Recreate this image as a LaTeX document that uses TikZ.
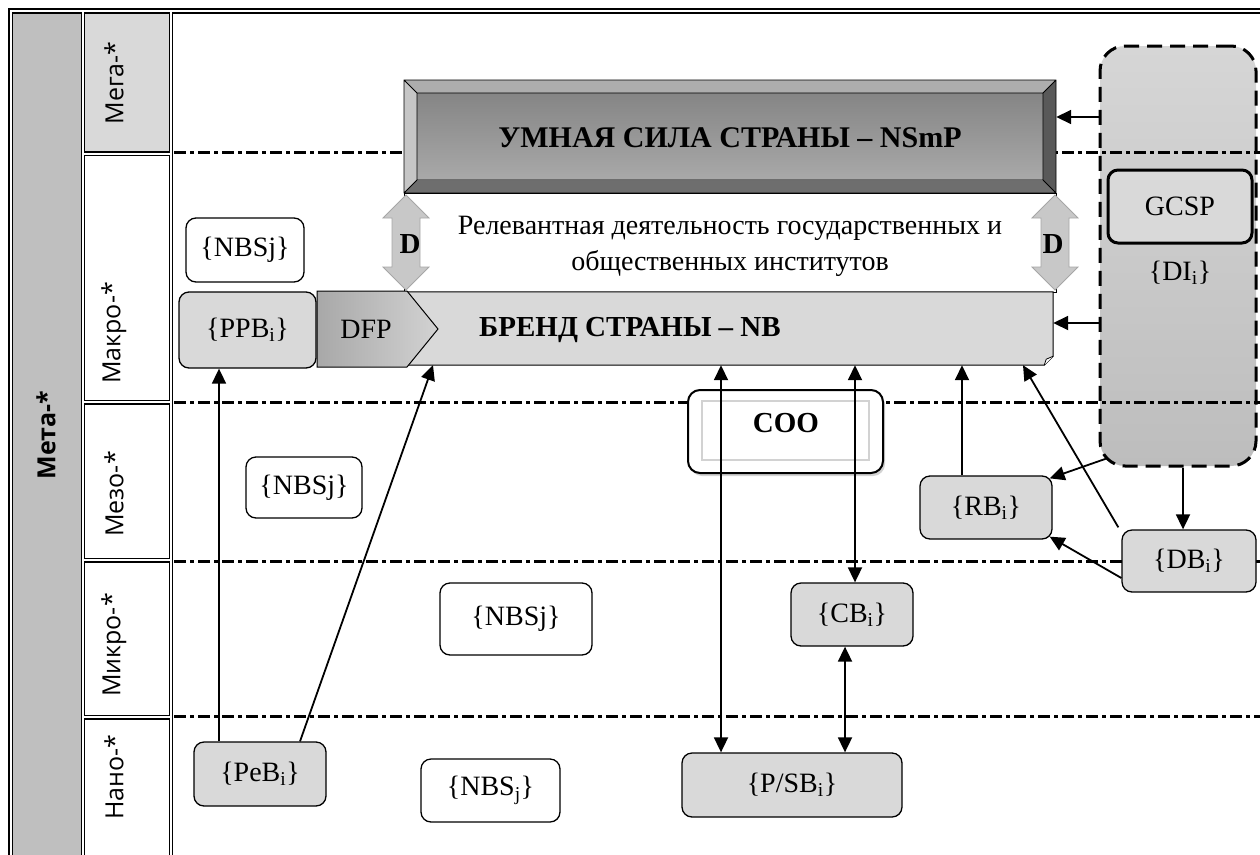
\documentclass[tikz,border=0pt]{standalone}
\usepackage{fontspec}
\setmainfont{Liberation Serif}
\newfontfamily\lsans{Open Sans}
\usetikzlibrary{arrows.meta,shadows,calc}
\definecolor{lg}{HTML}{D9D9D9}
\definecolor{mg}{HTML}{BFBFBF}
\definecolor{bvtop}{HTML}{ADADAD}
\definecolor{bvleft}{HTML}{C6C6C6}
\definecolor{bvright}{HTML}{595959}
\definecolor{bvbot}{HTML}{6E6E6E}
\definecolor{bvin1}{HTML}{858585}
\definecolor{bvin2}{HTML}{A9A9A9}
\definecolor{arrg}{HTML}{C8C8C8}
\definecolor{arrb}{HTML}{A6A6A6}
\definecolor{dit}{HTML}{D6D6D6}
\definecolor{dib}{HTML}{BDBDBD}
\definecolor{dfp1}{HTML}{A8A8A8}
\definecolor{dfp2}{HTML}{D2D2D2}
\begin{document}
\begin{tikzpicture}[x=1pt,y=-1pt,
  every node/.style={font=\fontsize{28}{36}\selectfont},
  btxt/.style={font=\bfseries\fontsize{29}{34}\selectfont},
  cell/.style={draw,line width=1.5pt},
  lvl/.style={draw,line width=3pt,dash pattern=on 12pt off 4pt on 4pt off 4pt},
  rbox/.style={draw,line width=1.3pt,rounded corners=10pt,fill=lg,inner sep=0pt},
  wbox/.style={rbox,fill=white},
  arr/.style={line width=1.8pt,-{Triangle[length=15pt,width=14pt]}},
  darr/.style={line width=1.8pt,{Triangle[length=15pt,width=14pt]}-{Triangle[length=15pt,width=14pt]}},
  lab/.style={font=\lsans\fontsize{25}{28}\selectfont,rotate=90},
  blockarrow/.style={fill=arrg,draw=arrb,line width=0.8pt},
]
\useasboundingbox (0,0) rectangle (1260,854);
% ---- frame
\draw[line width=2.5pt] (9,880) -- (9,9) -- (1280,9);
\draw[cell,fill=mg] (12.5,880) -- (12.5,13) -- (81.5,13) -- (81.5,880);
\draw[cell,fill=lg] (84.5,13) rectangle (169.5,152);
\draw[cell] (84.5,155.5) rectangle (169.5,400.5);
\draw[cell] (84.5,404) rectangle (169.5,558.5);
\draw[cell] (84.5,562) rectangle (169.5,715.5);
\draw[cell] (84.5,880) -- (84.5,719) -- (169.5,719) -- (169.5,880);
\draw[cell] (172.5,880) -- (172.5,13) -- (1280,13);
\node[lab,font=\lsans\bfseries\fontsize{25}{28}\selectfont] (meta) at (46,435) {Мета-*};
\node[lab] (mega) at (114,83) {Мега-*};
\node[lab] (makro) at (114,333) {Макро-*};
\node[lab] (mezo) at (114,494) {Мезо-*};
\node[lab] (mikro) at (114,645) {Микро-*};
\node[lab] (nano) at (114,777) {Нано-*};
% ---- DI container
\node[draw,line width=3pt,dash pattern=on 15pt off 8pt,rounded corners=25pt,
      top color=dit,bottom color=dib,minimum width=156pt,minimum height=420pt,inner sep=0pt]
      (di) at (1178,256) {};
\node[rbox,line width=3pt,minimum width=144pt,minimum height=73pt] (gcsp) at (1180,206.5) {GCSP};
\node (dii) at (1180,273) {\{DI\textsubscript{i}\}};
% ---- level lines
\draw[lvl] (174,152) -- (1260,152);
\draw[lvl] (174,402) -- (1260,402);
\draw[lvl] (174,561) -- (1260,561);
\draw[lvl] (174,716) -- (1260,716);
% ---- NSmP bevel box
\fill[bvtop] (404,80) -- (1056,80) -- (1043,93) -- (417,93) -- cycle;
\fill[bvleft] (404,80) -- (417,93) -- (417,180) -- (404,193) -- cycle;
\fill[bvright] (1056,80) -- (1056,193) -- (1043,180) -- (1043,93) -- cycle;
\fill[bvbot] (404,193) -- (1056,193) -- (1043,180) -- (417,180) -- cycle;
\shade[top color=bvin1,bottom color=bvin2] (417,93) rectangle (1043,180);
\draw[line width=0.8pt] (404,80) rectangle (1056,193) (417,93) rectangle (1043,180)
  (404,80) -- (417,93) (1056,80) -- (1043,93) (404,193) -- (417,180) (1056,193) -- (1043,180);
\node[minimum width=652pt,minimum height=113pt,font=\bfseries\fontsize{30}{34}\selectfont] (nsmp) at (730,138) {УМНАЯ СИЛА СТРАНЫ – NSmP};
% ---- relevant activity band
\draw[line width=0.6pt,fill=white] (404,193) rectangle (1056,292);
\node[align=center] (rel) at (730,246) {Релевантная деятельность государственных и\\общественных институтов};
% ---- NB box
\node[minimum width=646pt,minimum height=73pt,inner sep=0pt] (nb) at (730,328.5) {};
\draw[line width=1pt,fill=lg] (nb.north west) -- (nb.north east) -- ([yshift=9pt]nb.south east) -- ([xshift=-9pt]nb.south east) -- (nb.south west) -- cycle;
\draw[line width=0.8pt,fill=white] ([xshift=-9pt]nb.south east) -- ([xshift=-7pt,yshift=6pt]nb.south east) -- ([yshift=9pt]nb.south east);
\node[btxt] (nbt) at (630,330) {БРЕНД СТРАНЫ – NB};
% ---- D arrows
\filldraw[blockarrow] (406,195) -- (429,218) -- (420,218) -- (420,267) -- (429,267) -- (406,290) -- (383,267) -- (392,267) -- (392,218) -- (383,218) -- cycle;
\filldraw[blockarrow] (1055,195) -- (1078,218) -- (1069,218) -- (1069,267) -- (1078,267) -- (1055,290) -- (1032,267) -- (1041,267) -- (1041,218) -- (1032,218) -- cycle;
\node[btxt] (d1) at (410,244) {D};
\node[btxt] (d2) at (1053,244) {D};
% ---- DFP
\shade[left color=dfp1,right color=dfp2,draw=black,line width=1pt] (317,291) -- (407,291) -- (438,329) -- (407,367) -- (317,367) -- cycle;
\node (dfp) at (366,329) {DFP};
% ---- boxes
\node[rbox,minimum width=137pt,minimum height=76pt] (ppb) at (247.5,330) {\{PPB\textsubscript{i}\}};
\node[wbox,minimum width=118pt,minimum height=64pt] (nbs1) at (245,250) {\{NBSj\}};
\node[wbox,minimum width=116pt,minimum height=61pt] (nbs2) at (304,487.5) {\{NBSj\}};
\node[wbox,minimum width=152pt,minimum height=72pt] (nbs3) at (516,619) {\{NBSj\}};
\node[wbox,minimum width=139pt,minimum height=63pt] (nbs4) at (490.5,790.5) {\{NBS\textsubscript{j}\}};
\node[rbox,minimum width=132pt,minimum height=64pt] (peb) at (260,774) {\{PeB\textsubscript{i}\}};
\node[rbox,minimum width=220pt,minimum height=64pt] (psb) at (792,785) {\{P/SB\textsubscript{i}\}};
\node[rbox,minimum width=122pt,minimum height=63pt] (cb) at (852,614.5) {\{CB\textsubscript{i}\}};
\node[rbox,minimum width=132pt,minimum height=63pt] (rb) at (986,507.5) {\{RB\textsubscript{i}\}};
\node[rbox,minimum width=134pt,minimum height=62pt] (db) at (1189,561) {\{DB\textsubscript{i}\}};
% ---- COO
\node[draw,line width=2pt,rounded corners=12pt,fill=white,minimum width=195pt,minimum height=83pt,
      drop shadow={opacity=0.35,shadow xshift=2pt,shadow yshift=-3pt}] (coo) at (785.5,431.5) {};
\draw[line width=2pt,gray!35] ([shift={(15pt,-12pt)}]coo.north west) rectangle ([shift={(-15pt,14pt)}]coo.south east);
\node[font=\bfseries\fontsize{29}{34}\selectfont,anchor=center] (coot) at (786,423) {COO};
% ---- connectors
\coordinate (xa) at (219,0);
\coordinate (xb) at (300,0);
\coordinate (xc) at (433,0);
\coordinate (xd) at (721,0);
\coordinate (xe) at (855,0);
\coordinate (xf) at (845,0);
\coordinate (xg) at (962,0);
\coordinate (xh) at (1023,0);
\coordinate (xi) at (1183,0);
\coordinate (ya) at (0,117);
\coordinate (yb) at (0,323);
\draw[arr] (peb.north -| xa) -- (ppb.south -| xa);
\draw[arr] (peb.north -| xb) -- (nb.south -| xc);
\draw[darr] (nb.south -| xd) -- (psb.north -| xd);
\draw[darr] (nb.south -| xe) -- (cb.north -| xe);
\draw[darr] (cb.south -| xf) -- (psb.north -| xf);
\draw[arr] (rb.north -| xg) -- (nb.south -| xg);
\draw[arr] ([shift={(-3pt,2pt)}]db.north west) -- (nb.south -| xh);
\draw[arr] ([shift={(8pt,9pt)}]di.south west) -- ([shift={(-3pt,-3pt)}]rb.north east);
\draw[arr] ([yshift=-17pt]db.west) -- ([shift={(-3pt,3pt)}]rb.south east);
\draw[arr] (di.west |- ya) -- (nsmp.east |- ya);
\draw[arr] (di.west |- yb) -- (nb.east |- yb);
\draw[arr] (di.south -| xi) -- (db.north -| xi);
\end{tikzpicture}
\end{document}
